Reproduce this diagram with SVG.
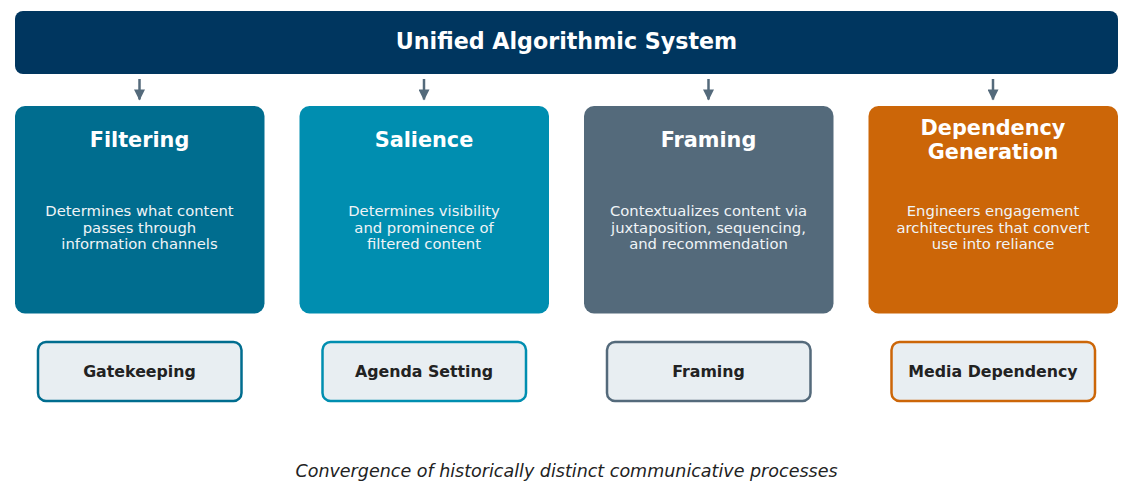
<svg xmlns="http://www.w3.org/2000/svg" width="1130" height="490" viewBox="0 0 1130 490">
<style>
.title{font-family:"DejaVu Sans",sans-serif;font-weight:bold;font-size:22.2px;fill:#ffffff;text-anchor:middle}
.ct{font-family:"DejaVu Sans",sans-serif;font-weight:bold;font-size:20.8px;fill:#ffffff;text-anchor:middle}
.cb{font-family:"DejaVu Sans",sans-serif;font-size:14.8px;fill:#f0f4f7;text-anchor:middle}
.lb{font-family:"DejaVu Sans",sans-serif;font-weight:bold;font-size:15.8px;fill:#222222;text-anchor:middle}
.cap{font-family:"DejaVu Sans",sans-serif;font-style:italic;font-size:17.5px;fill:#222222;text-anchor:middle}
.lbox{fill:#e8eef2;stroke-width:2.5}
.conn{stroke:#546a7b;stroke-width:2.5;fill:none}
</style>
<defs>
<marker id="ah" viewBox="0 0 10 10" refX="9" refY="5" markerWidth="4.6" markerHeight="4.4" orient="auto" markerUnits="strokeWidth">
<path d="M0,0 L10,5 L0,10 z" fill="#546a7b"/>
</marker>
</defs>
<rect width="1130" height="490" fill="#ffffff"/>
<g id="system">
<rect x="15" y="11" width="1103" height="63" rx="8" fill="#00365f"/>
<text class="title" x="566.5" y="49">Unified Algorithmic System</text>
</g>
<g id="connectors">
<line class="conn" x1="139.5" y1="79" x2="139.5" y2="99.5" marker-end="url(#ah)"/>
<line class="conn" x1="424" y1="79" x2="424" y2="99.5" marker-end="url(#ah)"/>
<line class="conn" x1="708.5" y1="79" x2="708.5" y2="99.5" marker-end="url(#ah)"/>
<line class="conn" x1="993" y1="79" x2="993" y2="99.5" marker-end="url(#ah)"/>
</g>
<g id="filtering">
<rect x="15" y="106" width="249.5" height="207.5" rx="10" fill="#006d8f"/>
<text class="ct" x="139.5" y="147">Filtering</text>
<text class="cb" x="139.5" y="216">Determines what content</text>
<text class="cb" x="139.5" y="232.5">passes through</text>
<text class="cb" x="139.5" y="249">information channels</text>
</g>
<g id="salience">
<rect x="299.5" y="106" width="249.5" height="207.5" rx="10" fill="#008eb0"/>
<text class="ct" x="424" y="147">Salience</text>
<text class="cb" x="424" y="216">Determines visibility</text>
<text class="cb" x="424" y="232.5">and prominence of</text>
<text class="cb" x="424" y="249">filtered content</text>
</g>
<g id="framing">
<rect x="584" y="106" width="249.5" height="207.5" rx="10" fill="#546a7b"/>
<text class="ct" x="708.5" y="147">Framing</text>
<text class="cb" x="708.5" y="216">Contextualizes content via</text>
<text class="cb" x="708.5" y="232.5">juxtaposition, sequencing,</text>
<text class="cb" x="708.5" y="249">and recommendation</text>
</g>
<g id="dependency">
<rect x="868.5" y="106" width="249.5" height="207.5" rx="10" fill="#cc6608"/>
<text class="ct" x="993" y="135">Dependency</text>
<text class="ct" x="993" y="159">Generation</text>
<text class="cb" x="993" y="216">Engineers engagement</text>
<text class="cb" x="993" y="232.5">architectures that convert</text>
<text class="cb" x="993" y="249">use into reliance</text>
</g>
<g id="gatekeeping">
<rect class="lbox" x="38" y="342" width="203.5" height="59" rx="8" stroke="#006d8f"/>
<text class="lb" x="139.5" y="377">Gatekeeping</text>
</g>
<g id="agenda-setting">
<rect class="lbox" x="322.5" y="342" width="203.5" height="59" rx="8" stroke="#008eb0"/>
<text class="lb" x="424" y="377">Agenda Setting</text>
</g>
<g id="framing-theory">
<rect class="lbox" x="607" y="342" width="203.5" height="59" rx="8" stroke="#546a7b"/>
<text class="lb" x="708.5" y="377">Framing</text>
</g>
<g id="media-dependency">
<rect class="lbox" x="891.5" y="342" width="203.5" height="59" rx="8" stroke="#cc6608"/>
<text class="lb" x="993" y="377">Media Dependency</text>
</g>
<text class="cap" x="566.5" y="477">Convergence of historically distinct communicative processes</text>
</svg>
